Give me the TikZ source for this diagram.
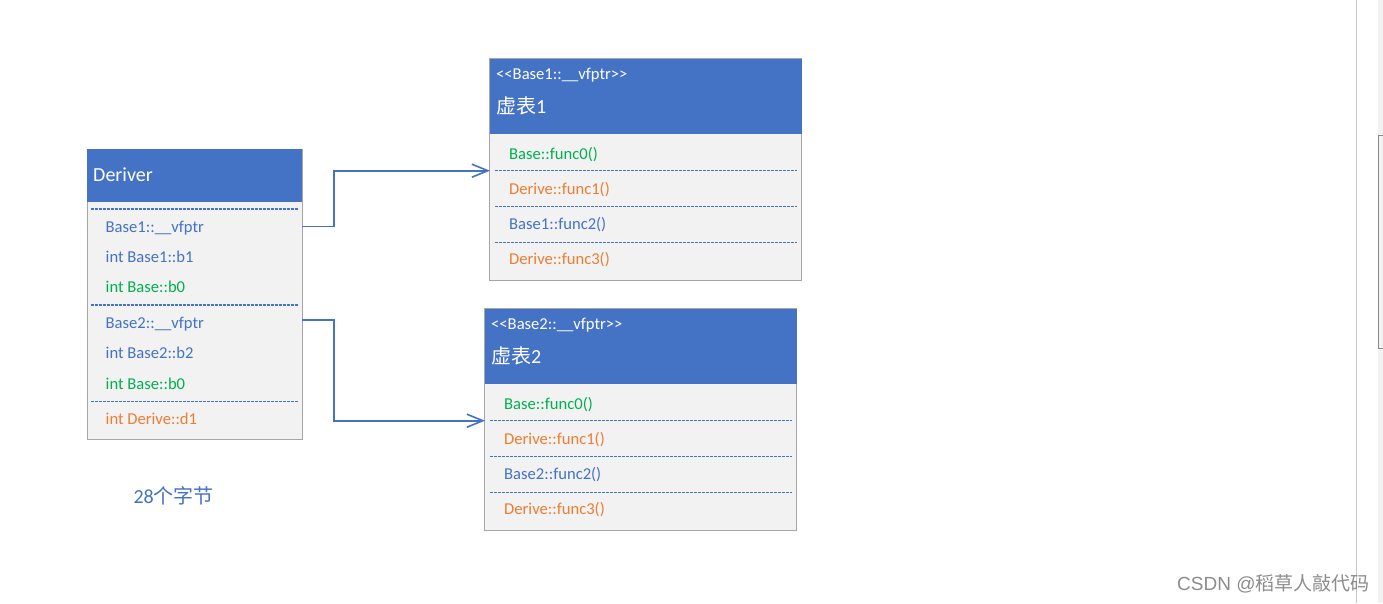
\documentclass[tikz,border=0pt]{standalone}
\usepackage{fontspec}
\setmainfont{Carlito}
\newfontfamily\cjk{Noto Sans CJK SC}
\newfontfamily\wmfont{Liberation Sans}
\usetikzlibrary{arrows.meta}
\definecolor{hdrblue}{HTML}{4472C4}
\definecolor{txtblue}{HTML}{4472C4}
\definecolor{txtgreen}{HTML}{00B050}
\definecolor{txtorange}{HTML}{ED7D31}
\definecolor{bodyfill}{HTML}{F2F2F2}
\definecolor{boxline}{HTML}{A6A6A6}
\tikzset{
  x=1pt, y=-1pt,
  bodybox/.style={draw=boxline, fill=bodyfill, line width=0.9pt, anchor=north west, inner sep=0pt, outer sep=0pt},
  hdrbox/.style={fill=hdrblue, anchor=north west, inner sep=0pt, outer sep=0pt},
  sep/.style={draw=txtblue, line width=1.3pt, dash pattern=on 2.6pt off 1.4pt},
  rowtxt/.style={anchor=base west, inner sep=0pt, font=\fontsize{16.6}{18}\selectfont},
  hdrtxt/.style={anchor=base west, inner sep=0pt, text=white, font=\fontsize{20}{22}\selectfont},
  hdrsmall/.style={anchor=base west, inner sep=0pt, text=white, font=\fontsize{16.6}{18}\selectfont},
  link/.style={draw=txtblue, line width=1.6pt, -{Straight Barb[length=16pt,width=13pt,line width=1.6pt]}},
}
\begin{document}
\begin{tikzpicture}
\useasboundingbox (0,0) rectangle (1383,603);
\fill[white] (0,0) rectangle (1383,603);
% right-side screenshot edge
\draw[color=black!22, line width=1pt] (1356.7,0) -- (1356.7,603);
\fill[black!5] (1377.7,0) rectangle (1383,603);
\draw[color=black!45, line width=0.8pt] (1383,135) -- (1378.2,135) -- (1378.2,348) -- (1383,348);

% ---------- Deriver ----------
\node[bodybox, minimum width=215pt, minimum height=290pt] (deriver) at (87,149) {};
\node[hdrbox, minimum width=215pt, minimum height=53pt] (deriverhdr) at (87,149) {};
\node[hdrtxt] (dtitle) at (93,181) {Deriver};
\draw[sep] (91,209) -- (298,209);
\node[rowtxt, text=txtblue] (dv1) at (105.5,232) {Base1::\_\_vfptr};
\node[rowtxt, text=txtblue] (db1) at (105.5,262.3) {int Base1::b1};
\node[rowtxt, text=txtgreen] (db0a) at (105.5,292.7) {int Base::b0};
\draw[sep] (91,305) -- (298,305);
\node[rowtxt, text=txtblue] (dv2) at (105.5,328.3) {Base2::\_\_vfptr};
\node[rowtxt, text=txtblue] (db2) at (105.5,358.3) {int Base2::b2};
\node[rowtxt, text=txtgreen] (db0b) at (105.5,389) {int Base::b0};
\draw[sep] (91,401.7) -- (298,401.7);
\node[rowtxt, text=txtorange] (dd1) at (105.5,424) {int Derive::d1};
\coordinate (out1) at (302,226.5);
\coordinate (out2) at (302,320);

% ---------- vtable 1 ----------
\node[bodybox, minimum width=312pt, minimum height=221.5pt] (vt1) at (489.5,58.5) {};
\node[hdrbox, minimum width=312pt, minimum height=75.5pt] (vt1hdr) at (489.5,58.5) {};
\node[hdrsmall] (t1tag) at (496,79.3) {{<}{<}Base1::\_\_vfptr{>}{>}};
\node[hdrtxt] (t1title) at (496,113.3) {{\cjk 虚表}1};
\node[rowtxt, text=txtgreen] (t1f0) at (509,159) {Base::func0()};
\draw[sep] (495,170.7) -- (797,170.7);
\node[rowtxt, text=txtorange] (t1f1) at (509,194) {Derive::func1()};
\draw[sep] (495,206.5) -- (797,206.5);
\node[rowtxt, text=txtblue] (t1f2) at (509,229) {Base1::func2()};
\draw[sep] (495,242.3) -- (797,242.3);
\node[rowtxt, text=txtorange] (t1f3) at (509,264.3) {Derive::func3()};
\coordinate (in1) at (490,170.7);

% ---------- vtable 2 ----------
\node[bodybox, minimum width=312pt, minimum height=221.5pt] (vt2) at (484.5,308.5) {};
\node[hdrbox, minimum width=312pt, minimum height=75.5pt] (vt2hdr) at (484.5,308.5) {};
\node[hdrsmall] (t2tag) at (491,329.3) {{<}{<}Base2::\_\_vfptr{>}{>}};
\node[hdrtxt] (t2title) at (491,363.3) {{\cjk 虚表}2};
\node[rowtxt, text=txtgreen] (t2f0) at (504,409) {Base::func0()};
\draw[sep] (490,420.7) -- (792,420.7);
\node[rowtxt, text=txtorange] (t2f1) at (504,444) {Derive::func1()};
\draw[sep] (490,456.5) -- (792,456.5);
\node[rowtxt, text=txtblue] (t2f2) at (504,479) {Base2::func2()};
\draw[sep] (490,492.3) -- (792,492.3);
\node[rowtxt, text=txtorange] (t2f3) at (504,514.3) {Derive::func3()};
\coordinate (in2) at (485,420.7);

% ---------- connectors ----------
\draw[link] (out1) -- (334,226.5) -- (334,170.7) -- (in1);
\draw[link] (out2) -- (334,320) -- (334,420.7) -- (in2);

% ---------- note ----------
\node[anchor=base west, inner sep=0pt, text=txtblue, font=\fontsize{20}{22}\selectfont] (size) at (133.3,503.3) {28{\cjk 个字节}};

% ---------- watermark ----------
\node[anchor=base west, inner sep=0pt, text=black!45, font=\wmfont\fontsize{19}{21}\selectfont] (wm) at (1177,590) {CSDN @{\cjk 稻草人敲代码}};
\end{tikzpicture}
\end{document}
